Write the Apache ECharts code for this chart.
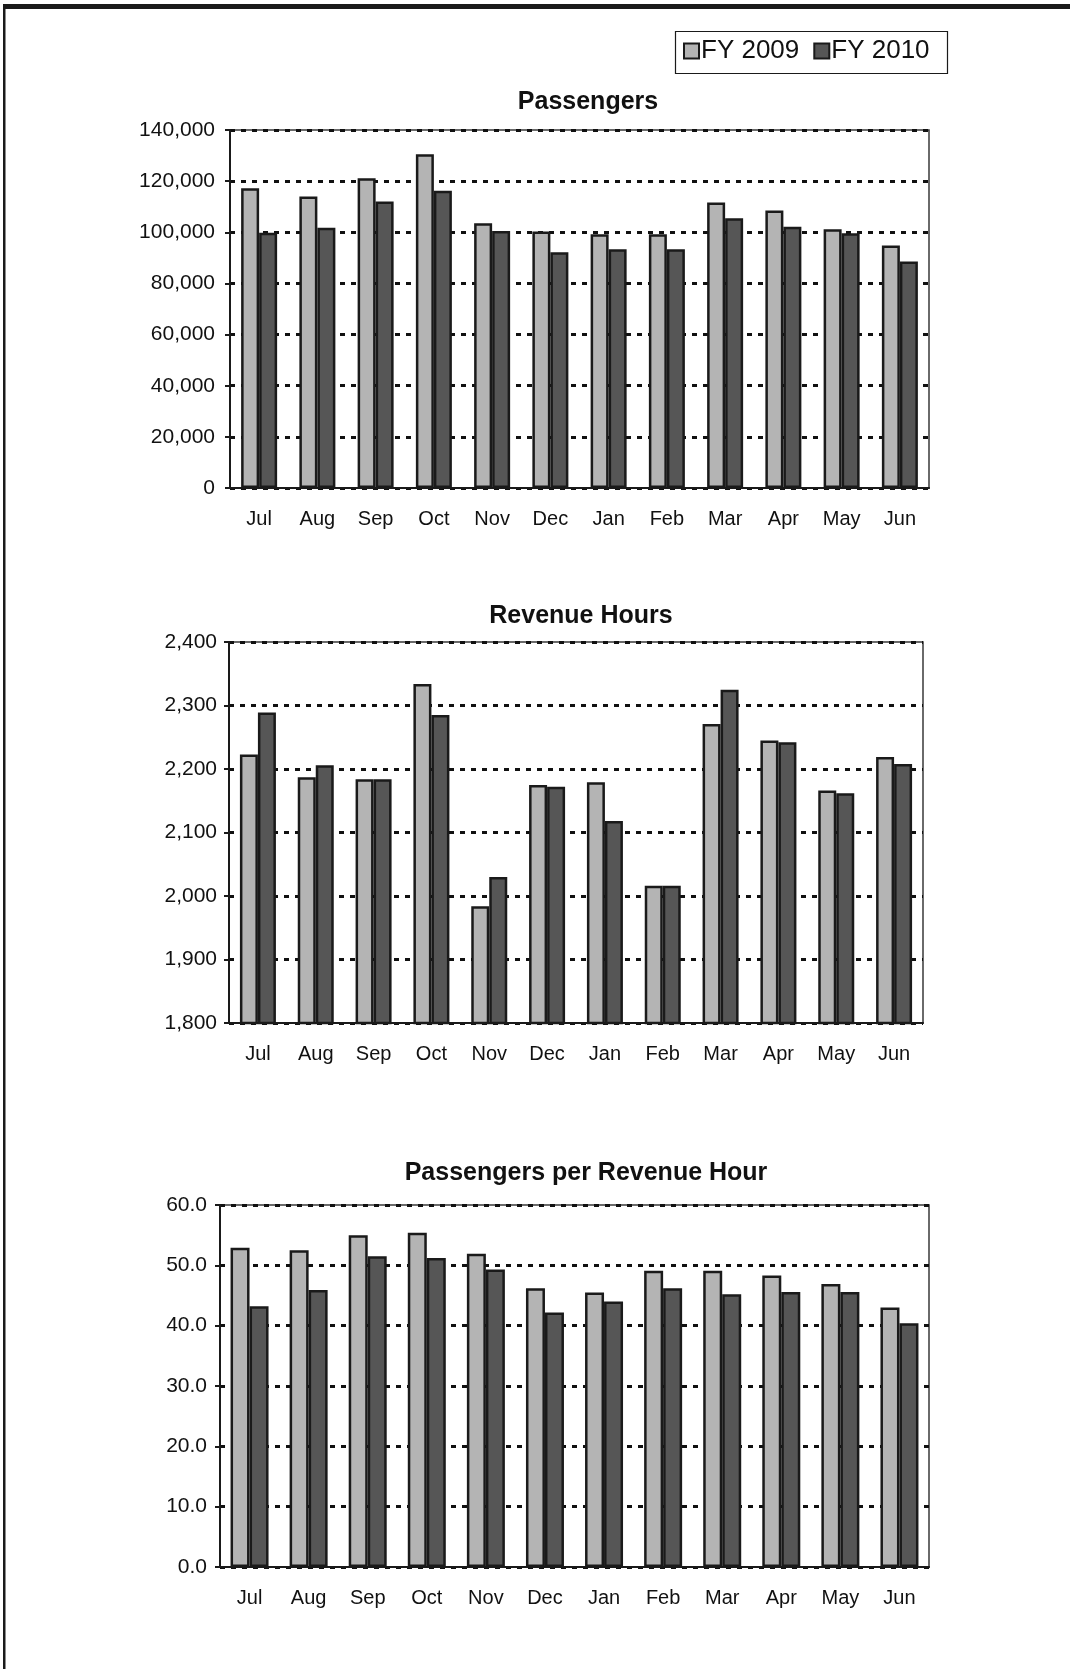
<!DOCTYPE html>
<html>
<head>
<meta charset="utf-8">
<style>
  html, body { margin: 0; padding: 0; background: #fff; }
  #chart { width: 1070px; height: 1669px; }
</style>
<script src="https://cdn.jsdelivr.net/npm/echarts@6/dist/echarts.min.js"></script>
</head>
<body>
<div id="chart"></div>
<script>
// Monthly figures, fiscal year runs July to June
const months = ['Jul', 'Aug', 'Sep', 'Oct', 'Nov', 'Dec', 'Jan', 'Feb', 'Mar', 'Apr', 'May', 'Jun'];
const seriesNames = ['FY 2009', 'FY 2010'];

const passengers2009 = [117200, 114000, 121100, 130500, 103500, 100300, 99200, 99200, 111600, 108500, 101200, 94800];
const passengers2010 = [99800, 101800, 112000, 116200, 100500, 92200, 93400, 93400, 105500, 102200, 99600, 88600];

const revHours2009 = [2223, 2187, 2184, 2334, 1984, 2175, 2179, 2016, 2271, 2245, 2166, 2219];
const revHours2010 = [2289, 2206, 2184, 2285, 2030, 2172, 2118, 2016, 2325, 2242, 2162, 2208];

const perHour2009 = [52.9, 52.5, 55.0, 55.4, 51.9, 46.2, 45.5, 49.1, 49.1, 48.3, 46.9, 43.0];
const perHour2010 = [43.2, 45.9, 51.5, 51.2, 49.3, 42.2, 44.0, 46.2, 45.2, 45.6, 45.6, 40.4];

const chartTitles = ['Passengers', 'Revenue Hours', 'Passengers per Revenue Hour'];

const FONT = '"Liberation Sans", Arial, sans-serif';
const LIGHT = '#b4b4b4';
const DARK = '#565656';
const EDGE = '#1a1a1a';

const withCommas = v => String(v).replace(/\B(?=(\d{3})+(?!\d))/g, ',');

// Panel geometry (plot rectangles)
const panels = [
  { left: 230, top: 130, width: 699, height: 358, min: 0, max: 140000, interval: 20000,
    fmt: withCommas, labelMargin: 15, barWidth: 18, titleX: 583, titleY: 99,
    data: [passengers2009, passengers2010] },
  { left: 229, top: 642, width: 694, height: 381, min: 1800, max: 2400, interval: 100,
    fmt: withCommas, labelMargin: 12, barWidth: 18, titleX: 576, titleY: 613,
    data: [revHours2009, revHours2010] },
  { left: 220, top: 1205, width: 709, height: 362, min: 0, max: 60, interval: 10,
    fmt: v => v.toFixed(1), labelMargin: 13, barWidth: 19, titleX: 581, titleY: 1170,
    data: [perHour2009, perHour2010] }
];

const grid = [], xAxis = [], yAxis = [], series = [], title = [];

panels.forEach((p, i) => {
  grid.push({
    left: p.left, top: p.top, width: p.width, height: p.height,
    show: true, borderColor: '#3a3a3a', borderWidth: 1.5, backgroundColor: 'transparent'
  });
  xAxis.push({
    type: 'category', gridIndex: i, data: months,
    axisLine: { lineStyle: { color: EDGE, width: 2 } },
    axisTick: { show: false },
    axisLabel: { color: '#111', fontFamily: FONT, fontSize: 20, margin: 21 }
  });
  yAxis.push({
    type: 'value', gridIndex: i, min: p.min, max: p.max, interval: p.interval,
    axisLine: { show: true, lineStyle: { color: EDGE, width: 2 } },
    axisTick: { show: true, length: 5, lineStyle: { color: EDGE, width: 2 } },
    axisLabel: { color: '#111', fontFamily: FONT, fontSize: 21, margin: p.labelMargin,
                 formatter: p.fmt },
    splitLine: { show: true, lineStyle: { color: '#111', width: 3, type: [5, 6] } }
  });
  p.data.forEach((vals, k) => {
    series.push({
      name: seriesNames[k], type: 'bar', xAxisIndex: i, yAxisIndex: i,
      data: vals, barWidth: p.barWidth, barGap: '0%',
      itemStyle: { color: k === 0 ? LIGHT : DARK, borderColor: EDGE, borderWidth: 2.5 },
      emphasis: { disabled: true }
    });
  });
  title.push({
    text: chartTitles[i], left: p.titleX, top: p.titleY - 14, textAlign: 'center',
    textStyle: { fontFamily: FONT, fontSize: 25, fontWeight: 'bold', color: '#111' }
  });
});

const chart = echarts.init(document.getElementById('chart'), null, { renderer: 'canvas' });
chart.setOption({
  animation: false,
  backgroundColor: '#fff',
  title,
  legend: {
    left: 683, top: 38, padding: 0, itemGap: 14,
    itemWidth: 15, itemHeight: 15, icon: 'rect',
    textStyle: { fontFamily: FONT, fontSize: 26, color: '#111', padding: [0, 0, 0, -3] },
    data: [
      { name: seriesNames[0], itemStyle: { color: LIGHT, borderColor: EDGE, borderWidth: 2 } },
      { name: seriesNames[1], itemStyle: { color: DARK, borderColor: EDGE, borderWidth: 2 } }
    ]
  },
  graphic: [
    // page frame: heavy top rule and left rule
    { type: 'rect', shape: { x: 3, y: 4, width: 1067, height: 5 }, style: { fill: '#1a1a1a' } },
    { type: 'rect', shape: { x: 3, y: 4, width: 2.5, height: 1665 }, style: { fill: '#1a1a1a' } },
    // legend frame
    { type: 'rect', shape: { x: 675.5, y: 31.5, width: 272, height: 42 },
      style: { fill: 'none', stroke: '#1a1a1a', lineWidth: 1.2 } }
  ],
  grid, xAxis, yAxis, series
});
</script>
</body>
</html>
